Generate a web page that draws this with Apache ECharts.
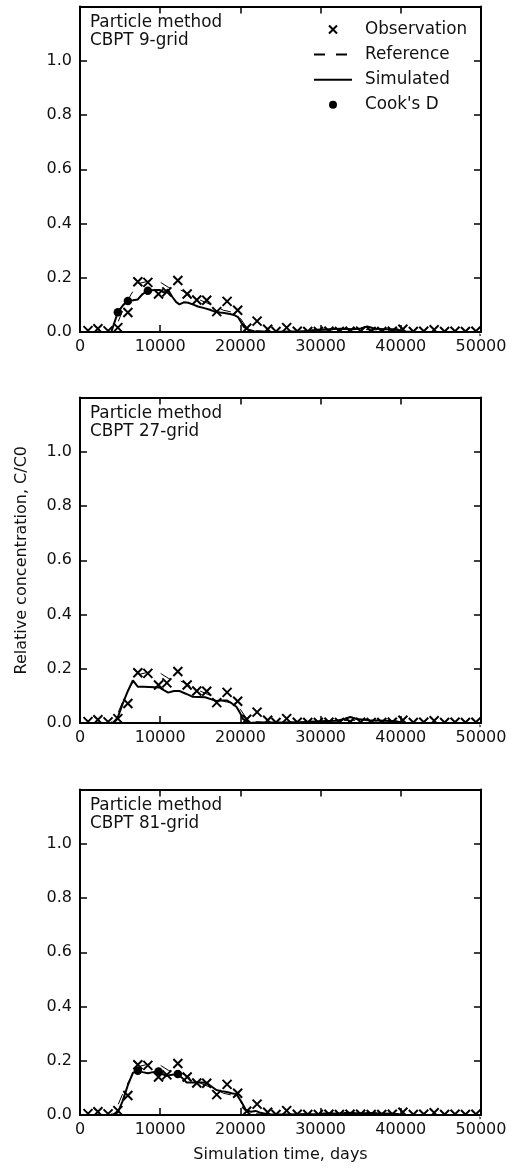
<!DOCTYPE html>
<html><head><meta charset="utf-8">
<script src="https://cdn.jsdelivr.net/npm/echarts@6/dist/echarts.min.js"></script>
<style>html,body{margin:0;padding:0;background:#fff}#c{width:518px;height:1168px}</style>
</head><body><div id="c"></div>
<script>
// ---- data ----
const obsTime = [1000, 2230, 3500, 4720, 5970, 7210, 8460, 9790, 10830, 12200, 13360, 14560, 15800, 17050, 18340, 19660, 20790, 22080, 23400, 24440, 25770, 27090, 28400, 29720, 31040, 32350, 33670, 34990, 36310, 37630, 38940, 40260, 41560, 42860, 44160, 45460, 46760, 48060, 49360];
const obsValue = [0.005, 0.012, 0.004, 0.016, 0.072, 0.185, 0.183, 0.14, 0.148, 0.19, 0.14, 0.118, 0.117, 0.075, 0.113, 0.08, 0.014, 0.04, 0.01, 0.002, 0.016, 0.003, 0.002, 0.002, 0.003, 0.002, 0.003, 0.003, 0.002, 0.002, 0.003, 0.01, 0.002, 0.003, 0.008, 0.002, 0.003, 0.002, 0.003];

const refTime = [0, 3800, 4500, 5200, 6000, 6800, 7500, 8200, 8900, 9600, 10200, 11000, 11800, 12500, 13300, 14000, 14800, 15600, 16400, 17200, 17900, 18700, 19400, 20000, 20700, 21500, 23000, 26000, 29000, 31000, 34000, 37000, 40000, 42000, 50000];
const refValue = [0, 0, 0.02, 0.07, 0.12, 0.16, 0.18, 0.185, 0.19, 0.192, 0.18, 0.165, 0.155, 0.155, 0.145, 0.13, 0.12, 0.11, 0.1, 0.09, 0.08, 0.075, 0.068, 0.05, 0.02, 0.006, 0.002, 0.002, 0.005, 0.008, 0.01, 0.008, 0.004, 0, 0];

const sim9Time = [0, 3900, 4720, 5400, 5970, 6600, 7210, 7800, 8460, 9300, 9930, 10500, 10950, 11500, 12000, 12400, 13000, 13500, 14200, 14700, 15500, 16200, 16800, 17500, 18000, 18700, 19200, 19700, 20400, 21000, 21700, 22500, 24000, 26000, 28000, 29500, 31000, 32500, 34000, 35000, 35800, 36800, 38000, 39500, 40200, 42000, 50000];
const sim9Value = [0, 0, 0.073, 0.1, 0.114, 0.117, 0.12, 0.14, 0.152, 0.155, 0.155, 0.145, 0.157, 0.13, 0.11, 0.102, 0.11, 0.108, 0.1, 0.094, 0.088, 0.082, 0.075, 0.072, 0.07, 0.066, 0.063, 0.055, 0.02, 0.008, 0.003, 0.002, 0, 0.002, 0.003, 0.008, 0.01, 0.012, 0.01, 0.013, 0.02, 0.012, 0.01, 0.01, 0.002, 0, 0];

const sim27Time = [0, 4100, 4700, 5350, 6000, 6590, 7200, 7900, 8600, 9300, 9900, 10500, 11000, 11700, 12400, 13200, 14000, 14800, 15600, 16300, 17000, 17600, 18300, 18900, 19500, 20000, 20300, 21100, 22000, 25000, 28000, 30000, 32000, 33000, 33700, 34500, 36000, 38000, 39500, 40300, 42000, 50000];
const sim27Value = [0, 0, 0.02, 0.073, 0.12, 0.157, 0.134, 0.134, 0.133, 0.132, 0.131, 0.12, 0.112, 0.118, 0.118, 0.108, 0.097, 0.096, 0.095, 0.088, 0.081, 0.083, 0.083, 0.073, 0.06, 0.035, 0.015, 0, 0.002, 0.002, 0.004, 0.006, 0.008, 0.015, 0.022, 0.015, 0.01, 0.008, 0.006, 0.001, 0, 0];

const sim81Time = [0, 4000, 4720, 5300, 5970, 6590, 7210, 7800, 8460, 9100, 9790, 10300, 10800, 11500, 12200, 12800, 13300, 14000, 14600, 15200, 15800, 16400, 17000, 17600, 18300, 18900, 19500, 20100, 20700, 21300, 21900, 22500, 23400, 25000, 27000, 30000, 33000, 36000, 39000, 40300, 42000, 50000];
const sim81Value = [0, 0, 0.01, 0.05, 0.11, 0.155, 0.163, 0.158, 0.154, 0.158, 0.16, 0.15, 0.145, 0.148, 0.151, 0.135, 0.12, 0.12, 0.12, 0.12, 0.118, 0.105, 0.092, 0.088, 0.085, 0.08, 0.077, 0.05, 0.018, 0.012, 0.015, 0.008, 0.003, 0.002, 0.003, 0.004, 0.006, 0.006, 0.005, 0.001, 0, 0];

const cook9Time = [4720, 5970, 8460];
const cook9Value = [0.073, 0.114, 0.152];
const cook81Time = [7210, 9790, 12200];
const cook81Value = [0.163, 0.16, 0.151];

const panelLabels = ['Particle method\nCBPT 9-grid', 'Particle method\nCBPT 27-grid', 'Particle method\nCBPT 81-grid'];
const legendNames = ['Observation', 'Reference', 'Simulated', "Cook's D"];
const xAxisTitle = 'Simulation time, days';
const yAxisTitle = 'Relative concentration, C/C0';

// ---- layout ----
const FONT = 'DejaVu Sans';
const INK = '#111';
const LEFT = 80, WIDTH = 401, HEIGHT = 325.5;
const TOPS = [6.5, 397.5, 789.5];
const pairs = (t, v) => t.map((x, i) => [x, v[i]]);

const sims = [pairs(sim9Time, sim9Value), pairs(sim27Time, sim27Value), pairs(sim81Time, sim81Value)];
const cooks = [pairs(cook9Time, cook9Value), null, pairs(cook81Time, cook81Value)];
const obs = pairs(obsTime, obsValue);
const ref = pairs(refTime, refValue);

const grids = [], xAxes = [], yAxes = [], series = [], graphics = [];
TOPS.forEach((top, i) => {
  grids.push({left: LEFT, top: top, width: WIDTH, height: HEIGHT});
  const axLine = {show: true, onZero: false, lineStyle: {color: '#000', width: 2}};
  const tick = {show: true, inside: true, length: 7, lineStyle: {color: '#000', width: 1.5}};
  xAxes.push({
    type: 'value', gridIndex: i, position: 'bottom', min: 0, max: 50000, interval: 10000, z: 20,
    axisLine: axLine, axisTick: tick, splitLine: {show: false},
    axisLabel: {margin: 7, fontFamily: FONT, fontSize: 16, color: INK, formatter: v => String(v)},
    name: i === 2 ? xAxisTitle : '', nameLocation: 'middle', nameGap: 32,
    nameTextStyle: {fontFamily: FONT, fontSize: 16, color: INK}
  });
  xAxes.push({
    type: 'value', gridIndex: i, position: 'top', min: 0, max: 50000, interval: 10000, z: 20,
    axisLine: axLine, axisTick: tick, splitLine: {show: false}, axisLabel: {show: false}
  });
  yAxes.push({
    type: 'value', gridIndex: i, position: 'left', min: 0, max: 1.2, interval: 0.2, z: 20,
    axisLine: axLine, axisTick: tick, splitLine: {show: false},
    axisLabel: {margin: 8, fontFamily: FONT, fontSize: 16, color: INK,
      formatter: v => (v > 1.05 ? '' : v.toFixed(1))},
    name: i === 1 ? yAxisTitle : '', nameLocation: 'middle', nameGap: 50,
    nameTextStyle: {fontFamily: FONT, fontSize: 16, color: INK}
  });
  yAxes.push({
    type: 'value', gridIndex: i, position: 'right', min: 0, max: 1.2, interval: 0.2, z: 20,
    axisLine: axLine, axisTick: tick, splitLine: {show: false}, axisLabel: {show: false}
  });
  const xi = 2 * i, yi = 2 * i;
  series.push({
    name: 'Reference', type: 'line', xAxisIndex: xi, yAxisIndex: yi, data: ref,
    symbol: 'none', lineStyle: {color: '#000', width: 1, type: [11, 11]}, itemStyle: {color: '#000'}, z: 2
  });
  series.push({
    name: 'Simulated', type: 'line', xAxisIndex: xi, yAxisIndex: yi, data: sims[i],
    symbol: 'none', lineStyle: {color: '#000', width: 2}, itemStyle: {color: '#000'}, z: 3
  });
  series.push({
    name: 'Observation', type: 'scatter', xAxisIndex: xi, yAxisIndex: yi, data: obs,
    symbol: 'path://M0,0L10,10M10,0L0,10', symbolSize: 9,
    itemStyle: {color: 'rgba(0,0,0,0)', borderColor: '#000', borderWidth: 2, opacity: 1}, z: 4
  });
  if (cooks[i]) {
    series.push({
      name: "Cook's D", type: 'scatter', xAxisIndex: xi, yAxisIndex: yi, data: cooks[i],
      symbol: 'circle', symbolSize: 8.5, itemStyle: {color: '#000', opacity: 1}, z: 5
    });
  }
  graphics.push({
    type: 'text', left: 90, top: top + 7, z: 30,
    style: {text: panelLabels[i], font: '16.8px "' + FONT + '"', fill: INK, lineHeight: 18.4}
  });
  graphics.push({
    type: 'rect', z: 10, shape: {x: 81.5, y: top + HEIGHT + 1, width: WIDTH - 3, height: 6},
    style: {fill: '#fff'}
  });
});

const noSym = {color: 'rgba(0,0,0,0)', borderWidth: 0, opacity: 0};
const chart = echarts.init(document.getElementById('c'), null, {renderer: 'canvas'});
chart.setOption({
  animation: false,
  backgroundColor: '#fff',
  grid: grids, xAxis: xAxes, yAxis: yAxes, series: series,
  graphic: {elements: graphics},
  legend: {
    left: 313, top: 21, padding: 0, orient: 'vertical', itemWidth: 38, itemHeight: 14, itemGap: 8.1,
    selectedMode: false,
    textStyle: {fontFamily: FONT, fontSize: 16.8, color: INK, padding: [0, 0, 0, 8]},
    data: [
      {name: legendNames[0], icon: 'path://M-3,-3M11,11M0,0L8,8M8,0L0,8', itemStyle: {borderWidth: 2, opacity: 1}},
      {name: legendNames[1], itemStyle: noSym},
      {name: legendNames[2], itemStyle: noSym},
      {name: legendNames[3], icon: 'path://M-3,-3M11,11M0,4A4,4,0,1,0,8,4A4,4,0,1,0,0,4Z', itemStyle: {opacity: 1}}
    ]
  }
});
</script></body></html>
